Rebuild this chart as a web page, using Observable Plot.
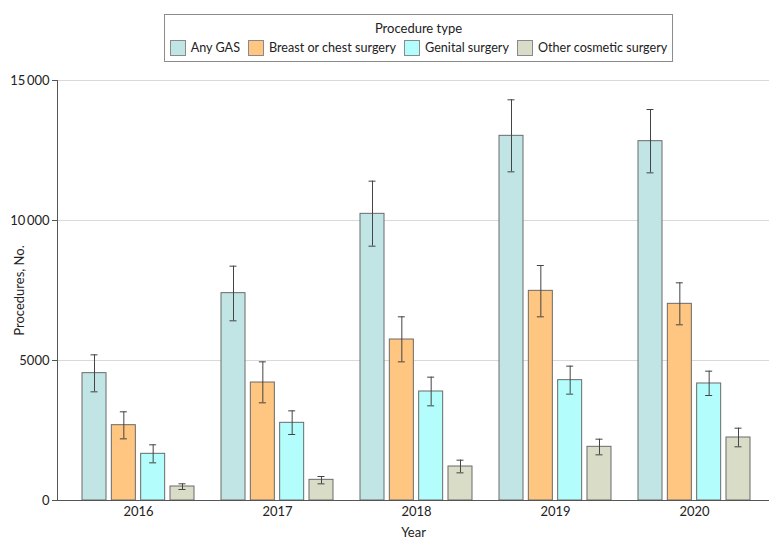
<!DOCTYPE html>
<html>
<head>
<meta charset="utf-8">
<script src="https://cdn.jsdelivr.net/npm/d3@7"></script>
<script src="https://cdn.jsdelivr.net/npm/@observablehq/plot@0.6"></script>
<style>
  body { margin: 0; background: #fff; font-family: Lato, "Liberation Sans", sans-serif; color: #222; }
  #legend { box-sizing: border-box; margin: 14px 0 0 164px; width: 509px; height: 48px; border: 1px solid #8c8c8c; font-size: 12.6px; }
  #legend .t { text-align: center; margin-top: 5px; line-height: 16px; white-space: nowrap; font-size: 13px; }
  #legend .items { display: flex; justify-content: center; align-items: center; margin-top: 4px; white-space: nowrap; }
  #legend .item { display: flex; align-items: center; margin: 0 4px; line-height: 16px; white-space: nowrap; flex: none; }
  #legend .sw { box-sizing: border-box; width: 16px; height: 16px; border: 1px solid #8a8a8a; margin-right: 5px; flex: none; }
  #chart svg { display: block; }
</style>
</head>
<body>
<div id="legend"></div>
<div id="chart"></div>
<script>
const years = ["2016", "2017", "2018", "2019", "2020"];
const types = ["Any GAS", "Breast or chest surgery", "Genital surgery", "Other cosmetic surgery"];
const colors = ["#c0e5e4", "#ffc682", "#b3fdfd", "#d9dcc6"];

const anyGAS     = [4548, 7405, 10238, 13024, 12833];
const anyGASLo   = [3881, 6417, 9083, 11738, 11702];
const anyGASHi   = [5202, 8369, 11405, 14310, 13964];

const breast     = [2690, 4214, 5750, 7488, 7024];
const breastLo   = [2202, 3488, 4952, 6560, 6274];
const breastHi   = [3167, 4952, 6560, 8393, 7774];

const genital    = [1667, 2774, 3893, 4298, 4179];
const genitalLo  = [1345, 2357, 3381, 3798, 3750];
const genitalHi  = [1988, 3202, 4405, 4798, 4619];

const other      = [500, 738, 1214, 1917, 2250];
const otherLo    = [393, 595, 988, 1631, 1917];
const otherHi    = [595, 857, 1440, 2190, 2583];

const yTicks = [0, 5000, 10000, 15000];

const series = [
  [anyGAS, anyGASLo, anyGASHi],
  [breast, breastLo, breastHi],
  [genital, genitalLo, genitalHi],
  [other, otherLo, otherHi]
];

// Legend
const legend = document.getElementById("legend");
legend.innerHTML = `<div class="t">Procedure type</div><div class="items">${
  types.map((t, i) => `<div class="item"><div class="sw" style="background:${colors[i]}"></div><span>${t}</span></div>`).join("")
}</div>`;

const fmt = d => d >= 10000 ? d3.format(",")(d).replace(",", "\u2009") : String(d);

const barW = 25, gap = 4.33, slot = barW + gap;
const marks = [
  Plot.gridY(yTicks.filter(d => d > 0), { stroke: "#d9d9d9", strokeOpacity: 1 })
];

series.forEach(([vals, lo, hi], i) => {
  const data = years.map((y, j) => ({ year: y, type: types[i], value: vals[j], lo: lo[j], hi: hi[j] }));
  const off = (i - 1.5) * slot;
  marks.push(
    Plot.barY(data, {
      x: "year", y: "value", fill: "type", stroke: "#6a6a6a", strokeWidth: 1,
      insetLeft: i * slot, insetRight: (3 - i) * slot
    }),
    Plot.ruleX(data, { x: "year", y1: "lo", y2: "hi", dx: off, stroke: "#444", strokeWidth: 1 }),
    Plot.tickY(data, { x: "year", y: "hi", dx: off, insetLeft: 52.5, insetRight: 52.5, stroke: "#444", strokeWidth: 1 }),
    Plot.tickY(data, { x: "year", y: "lo", dx: off, insetLeft: 52.5, insetRight: 52.5, stroke: "#444", strokeWidth: 1 })
  );
});

marks.push(
  Plot.ruleY([0], { stroke: "#555" }),
  Plot.frame({ anchor: "left", stroke: "#555" }),
  Plot.axisY(yTicks, { tickSize: 5, tickPadding: 3, tickFormat: fmt, label: "Procedures, No.", labelArrow: false, labelAnchor: "center", labelOffset: 43, stroke: "#555" }),
  Plot.axisX({ tickSize: 0, tickPadding: 6, label: "Year", labelArrow: false, labelAnchor: "center", labelOffset: 36 })
);

const chart = Plot.plot({
  width: 783,
  height: 492,
  marginTop: 18,
  marginBottom: 54,
  marginLeft: 57,
  marginRight: 14,
  style: { fontFamily: "Lato, 'Liberation Sans', sans-serif", fontSize: "13px", color: "#222", background: "#fff" },
  x: { domain: years, paddingInner: 0.191, paddingOuter: 0.143, align: 0.575, label: "Year" },
  y: { domain: [0, 15000], label: "Procedures, No." },
  color: { domain: types, range: colors },
  marks
});
document.getElementById("chart").appendChild(chart);
</script>
</body>
</html>
